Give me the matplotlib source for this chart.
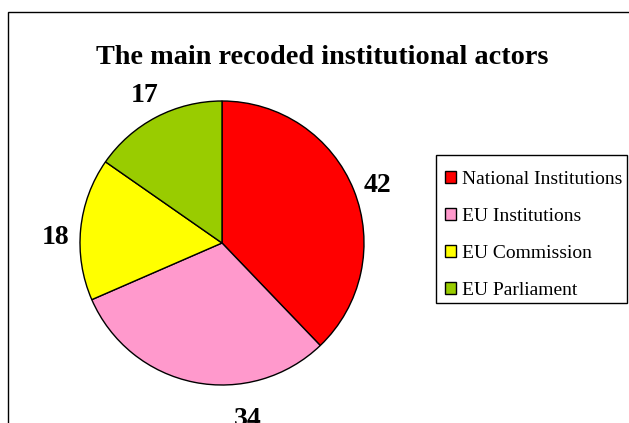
import matplotlib.pyplot as plt
from matplotlib.patches import Rectangle
import numpy as np

plt.rcParams['font.family'] = ['Liberation Serif', 'DejaVu Serif']

categories = ["National Institutions", "EU Institutions", "EU Commission", "EU Parliament"]
values = [42, 34, 18, 17]
colors = ["#ff0000", "#ff99cc", "#ffff00", "#99cc00"]

W, H = 629, 423
fig = plt.figure(figsize=(W / 100, H / 100), dpi=100)

# outer chart border (right/bottom run off the picture)
fig.patches.append(Rectangle((8 / W, -0.05), 1.0, (H - 12) / H + 0.05,
                             transform=fig.transFigure, fill=False,
                             edgecolor="black", linewidth=1.0))
# legend box
fig.patches.append(Rectangle((436 / W, 1 - 303 / H), 191 / W, 148 / H,
                             transform=fig.transFigure, fill=False,
                             edgecolor="black", linewidth=1.0))

cx, cy, r = 222, 243, 142
lim = 1.05
half = r * lim
ax = fig.add_axes([(cx - half) / W, (H - cy - half) / H, 2 * half / W, 2 * half / H])

wedges, texts = ax.pie(values, colors=colors, startangle=90, counterclock=False,
                       labels=[str(v) for v in values], labeldistance=1.18,
                       wedgeprops=dict(edgecolor="black", linewidth=1.0),
                       textprops=dict(fontsize=20, fontweight="bold"))
ax.set_xlim(-lim, lim)
ax.set_ylim(-lim, lim)
ax.set_aspect("equal")

# Excel-style placement of the bottom label
a = np.deg2rad(-81.5)
texts[1].set_position((1.24 * np.cos(a), 1.24 * np.sin(a)))
nudge = [-0.035, -0.02, -0.075, -0.01]
for t, dy in zip(texts, nudge):
    x, y = t.get_position()
    t.set_position((x, y + dy))
    t.set_ha("center")
    t.set_va("center")
    t.set_clip_on(False)

fig.text(322 / W, 1 - 57 / H, "The main recoded institutional actors",
         ha="center", va="center", fontsize=20.3, fontweight="bold")

leg = fig.legend(wedges, categories, loc="upper left",
                 bbox_to_anchor=(445 / W, 1 - 171 / H),
                 fontsize=14, frameon=False,
                 handlelength=0.55, handleheight=0.55,
                 handletextpad=0.3, labelspacing=1.03, borderaxespad=0.0,
                 borderpad=0.0)

fig.savefig("out.png", dpi=100)
